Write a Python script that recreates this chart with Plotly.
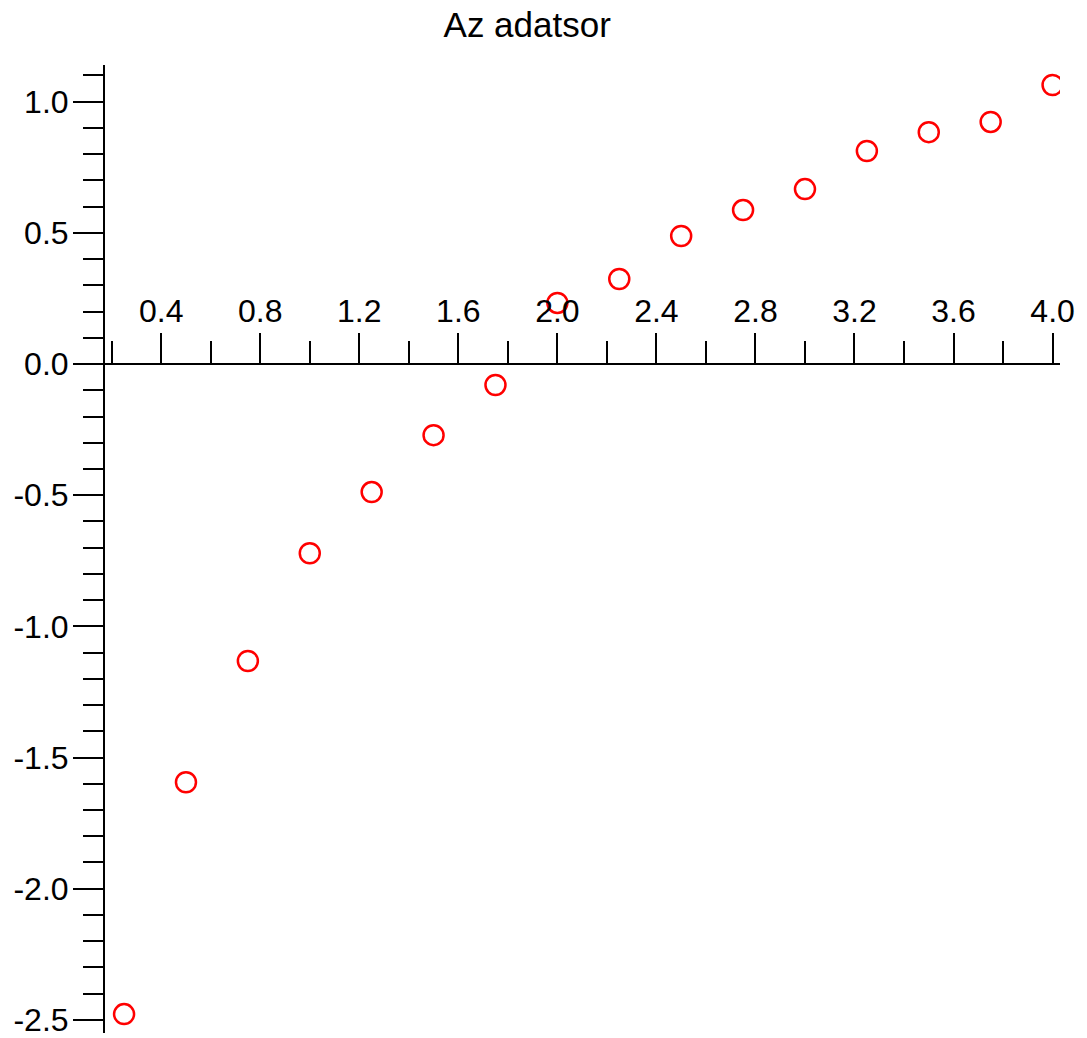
import plotly.graph_objects as go

# Data
x_values = [0.25, 0.5, 0.75, 1.0, 1.25, 1.5, 1.75, 2.0, 2.25, 2.5, 2.75, 3.0, 3.25, 3.5, 3.75, 4.0]
y_values = [-2.478, -1.594, -1.132, -0.721, -0.488, -0.271, -0.080, 0.233,
            0.324, 0.488, 0.587, 0.667, 0.812, 0.884, 0.923, 1.064]

x_tick_vals = [0.4, 0.8, 1.2, 1.6, 2.0, 2.4, 2.8, 3.2, 3.6, 4.0]
x_tick_text = ["0.4", "0.8", "1.2", "1.6", "2.0", "2.4", "2.8", "3.2", "3.6", "4.0"]
y_tick_vals = [-2.5, -2.0, -1.5, -1.0, -0.5, 0.0, 0.5, 1.0]
y_tick_text = ["-2.5", "-2.0", "-1.5", "-1.0", "-0.5", "0.0", "0.5", "1.0"]

title_text = "Az adatsor"

x_range = [0.173, 4.03]
y_range = [-2.55, 1.14]

FONT = "Liberation Sans, Arial, sans-serif"

fig = go.Figure()
fig.add_trace(go.Scatter(
    x=x_values, y=y_values, mode="markers",
    marker=dict(symbol="circle-open", size=20, color="red",
                line=dict(width=2.5, color="red")),
    cliponaxis=True, showlegend=False, hoverinfo="skip",
))

x_axis_pos = (0 - y_range[0]) / (y_range[1] - y_range[0])

fig.update_layout(
    width=1087, height=1038,
    margin=dict(l=105, r=27, t=65, b=5, autoexpand=False),
    paper_bgcolor="white", plot_bgcolor="white",
    font=dict(family=FONT, size=32, color="black"),
    title=dict(text=title_text, x=0.485, xanchor="center",
               y=1 - 25 / 1038, yanchor="middle", yref="container",
               font=dict(family=FONT, size=35, color="black")),
    xaxis=dict(
        range=x_range, anchor="free", position=x_axis_pos, side="top",
        automargin=False,
        showline=True, linecolor="black", linewidth=2,
        showgrid=False, zeroline=False,
        tickmode="array", tickvals=x_tick_vals, ticktext=x_tick_text,
        ticks="outside", ticklen=30, tickwidth=2, tickcolor="black",
        ticklabelstandoff=-2, ticklabeloverflow="allow",
        minor=dict(tickmode="linear", tick0=0, dtick=0.2, ticks="outside",
                   ticklen=22, tickwidth=2, tickcolor="black", showgrid=False),
        tickfont=dict(family=FONT, size=32, color="black"),
        fixedrange=True,
    ),
    yaxis=dict(
        range=y_range, automargin=False,
        showline=True, linecolor="black", linewidth=2,
        showgrid=False, zeroline=False,
        tickmode="array", tickvals=y_tick_vals, ticktext=y_tick_text,
        ticks="outside", ticklen=30, tickwidth=2, tickcolor="black",
        ticklabelstandoff=-2, ticklabeloverflow="allow",
        minor=dict(tickmode="linear", tick0=0, dtick=0.1, ticks="outside",
                   ticklen=20, tickwidth=2, tickcolor="black", showgrid=False),
        tickfont=dict(family=FONT, size=32, color="black"),
        fixedrange=True,
    ),
)

fig.write_html("out.html",
               config={"displayModeBar": False},
               post_script="document.body.style.margin='0';document.body.style.overflow='hidden';")
